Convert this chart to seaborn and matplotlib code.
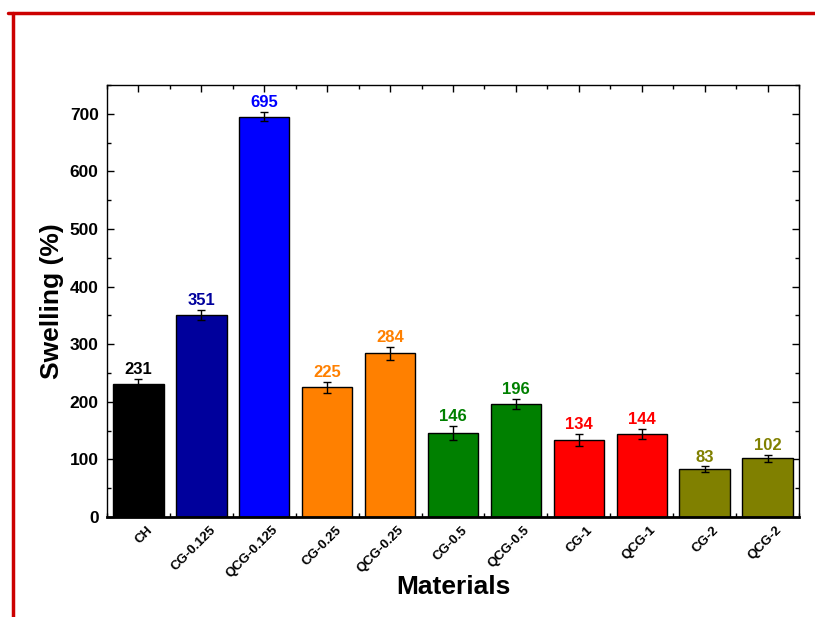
import matplotlib
matplotlib.use("Agg")
import matplotlib.pyplot as plt
import matplotlib.transforms as mtransforms
from matplotlib.lines import Line2D
from matplotlib.ticker import MultipleLocator, FixedLocator
import seaborn as sns
import pandas as pd

materials = ["CH", "CG-0.125", "QCG-0.125", "CG-0.25", "QCG-0.25", "CG-0.5",
             "QCG-0.5", "CG-1", "QCG-1", "CG-2", "QCG-2"]
swelling = [231, 351, 695, 225, 284, 146, 196, 134, 144, 83, 102]
errors = [9, 9, 8, 10, 11, 12, 9, 10, 9, 5, 6]
bar_colors = ["#000000", "#00009C", "#0000FF", "#FF8000", "#FF8000", "#008000",
              "#008000", "#FF0000", "#FF0000", "#808000", "#808000"]
label_colors = ["#000000", "#00009C", "#0000FF", "#FF8000", "#FF8000", "#008000",
                "#008000", "#FF0000", "#FF0000", "#808000", "#808000"]

df = pd.DataFrame({"Material": materials, "Swelling": swelling})

sns.set_theme(style="ticks")
plt.rcParams["font.family"] = ["Liberation Sans", "DejaVu Sans"]
plt.rcParams["font.weight"] = "bold"
plt.rcParams["text.color"] = "black"
plt.rcParams["axes.labelcolor"] = "black"
plt.rcParams["xtick.color"] = "black"
plt.rcParams["ytick.color"] = "black"

fig = plt.figure(figsize=(8.15, 6.17), dpi=100)
ax = fig.add_axes([107 / 815, 1 - 517 / 617, (799 - 107) / 815, (517 - 85) / 617])

sns.barplot(data=df, x="Material", y="Swelling", hue="Material", palette=bar_colors,
            legend=False, width=0.8, edgecolor="black", linewidth=1.0,
            errorbar=None, ax=ax, saturation=1)
ax.errorbar(range(len(materials)), swelling, yerr=errors, fmt="none",
            ecolor="black", elinewidth=1.0, capsize=3, capthick=1.0)

for i, (v, e) in enumerate(zip(swelling, errors)):
    ax.text(i, v + e + 3, str(v), ha="center", va="bottom", color=label_colors[i],
            fontsize=12, fontweight="bold")

ax.set_xlim(-0.5, len(materials) - 0.5)
ax.set_ylim(0, 750)
ax.yaxis.set_major_locator(FixedLocator([0, 100, 200, 300, 400, 500, 600, 700]))
ax.yaxis.set_minor_locator(MultipleLocator(50))
ax.xaxis.set_minor_locator(MultipleLocator(0.5))
ax.tick_params(axis="both", which="both", direction="in", top=True, right=True,
               color="black")
ax.tick_params(axis="both", which="major", length=5, width=1.0)
ax.tick_params(axis="both", which="minor", length=3, width=1.0)
ax.tick_params(axis="y", labelsize=12.5, pad=6)
ax.tick_params(axis="x", labelsize=9.5, pad=5)
shift = mtransforms.ScaledTranslation(8 / 100, 0, fig.dpi_scale_trans)
for lbl in ax.get_xticklabels():
    lbl.set_rotation(45)
    lbl.set_ha("right")
    lbl.set_rotation_mode("anchor")
    lbl.set_fontweight("bold")
    lbl.set_transform(lbl.get_transform() + shift)
for lbl in ax.get_yticklabels():
    lbl.set_fontweight("bold")

for side in ["top", "right", "left", "bottom"]:
    ax.spines[side].set_visible(True)
    ax.spines[side].set_color("black")
ax.spines["left"].set_linewidth(1.0)
ax.spines["top"].set_linewidth(1.0)
ax.spines["right"].set_linewidth(1.0)
ax.spines["bottom"].set_linewidth(2.0)

ax.set_xlabel("Materials", fontsize=19, fontweight="bold", labelpad=-4)
ax.set_ylabel("Swelling (%)", fontsize=19, fontweight="bold", labelpad=4)

# Red frame along the top and left edge
fig.add_artist(Line2D([8 / 815, 1.0], [1 - 13 / 617, 1 - 13 / 617],
                      transform=fig.transFigure, color="#CC0000", linewidth=2.5))
fig.add_artist(Line2D([13 / 815, 13 / 815], [1 - 13 / 617, 0.0],
                      transform=fig.transFigure, color="#CC0000", linewidth=2.5))

fig.savefig("out.png", dpi=100)
